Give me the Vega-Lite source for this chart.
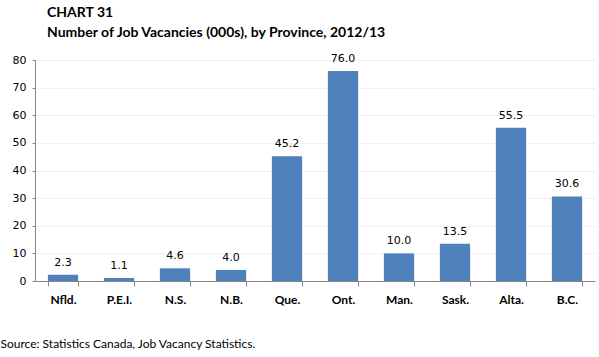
{
  "$schema": "https://vega.github.io/schema/vega-lite/v6.json",
  "autosize": "none",
  "width": 560,
  "height": 221,
  "padding": {"left": 35, "top": 60, "right": 4, "bottom": 76},
  "background": "white",
  "title": {
    "text": ["CHART 31", "Number of Job Vacancies (000s), by Province, 2012/13"],
    "anchor": "start",
    "frame": "group",
    "dx": 12,
    "offset": 13,
    "font": "Lato",
    "fontSize": 14,
    "fontWeight": "bold",
    "color": "black",
    "lineHeight": 20
  },
  "data": {
    "values": [
      {"province": "Nfld.", "value": 2.3},
      {"province": "P.E.I.", "value": 1.1},
      {"province": "N.S.", "value": 4.6},
      {"province": "N.B.", "value": 4.0},
      {"province": "Que.", "value": 45.2},
      {"province": "Ont.", "value": 76.0},
      {"province": "Man.", "value": 10.0},
      {"province": "Sask.", "value": 13.5},
      {"province": "Alta.", "value": 55.5},
      {"province": "B.C.", "value": 30.6}
    ]
  },
  "encoding": {
    "x": {
      "field": "province",
      "type": "nominal",
      "sort": null,
      "scale": {"paddingInner": 0.46, "paddingOuter": 0.23},
      "axis": {
        "title": "Source: Statistics Canada, Job Vacancy Statistics.",
        "titleAnchor": "start",
        "titleX": -35,
        "titleY": 66,
        "titleFont": "Lato",
        "titleFontSize": 12,
        "titleFontWeight": "normal",
        "titleColor": "black",
        "titleBaseline": "alphabetic",
        "labelAngle": 0,
        "labelFont": "Lato",
        "labelFontSize": 12,
        "labelFontWeight": "bold",
        "labelColor": "black",
        "labelPadding": 8,
        "tickBand": "extent",
        "tickSize": 5,
        "tickColor": "#868686",
        "domainColor": "#868686"
      }
    },
    "y": {
      "field": "value",
      "type": "quantitative",
      "scale": {"domain": [0, 80]},
      "axis": {
        "title": null,
        "values": [0, 10, 20, 30, 40, 50, 60, 70, 80],
        "labelFont": "DejaVu Sans",
        "labelFontSize": 11,
        "labelColor": "black",
        "labelPadding": 6,
        "tickSize": 3,
        "tickColor": "#868686",
        "domainColor": "#868686",
        "grid": true,
        "gridColor": "#f0f0f0"
      }
    }
  },
  "layer": [
    {"mark": {"type": "bar", "color": "#4F81BD"}},
    {
      "mark": {"type": "text", "baseline": "bottom", "dy": -7, "font": "DejaVu Sans", "fontSize": 11, "color": "black"},
      "encoding": {"text": {"field": "value", "type": "quantitative", "format": ".1f"}}
    }
  ],
  "config": {"view": {"stroke": null}}
}
